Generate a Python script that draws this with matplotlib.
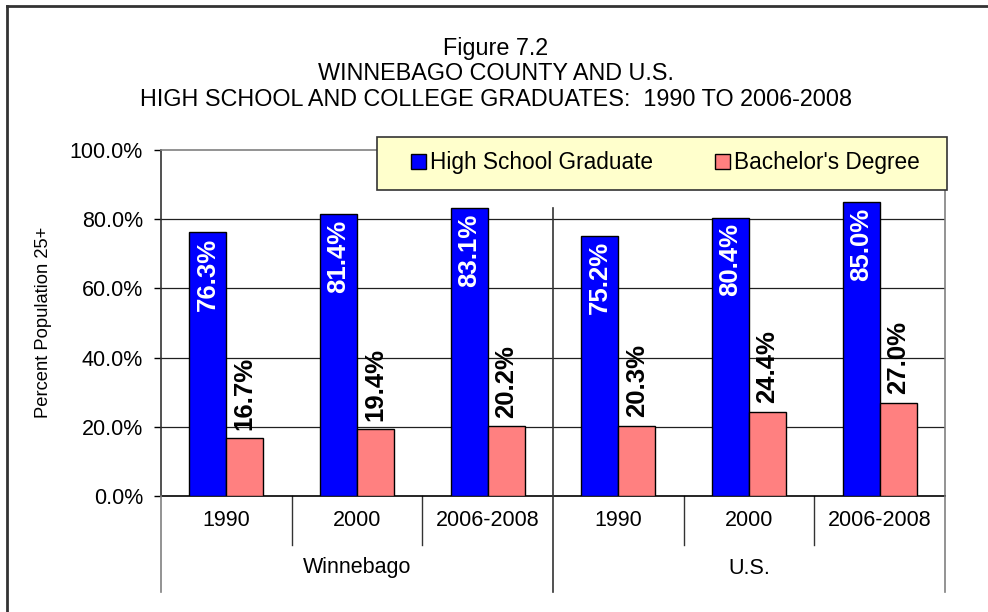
import matplotlib
matplotlib.use("Agg")
import matplotlib.pyplot as plt
from matplotlib.lines import Line2D
from matplotlib.patches import Rectangle
from matplotlib.transforms import blended_transform_factory
import numpy as np

plt.rcParams['font.family'] = ['Liberation Sans', 'DejaVu Sans']

# ---- data ----
groups = ["Winnebago", "U.S."]
years = ["1990", "2000", "2006-2008", "1990", "2000", "2006-2008"]
high_school = [76.3, 81.4, 83.1, 75.2, 80.4, 85.0]
bachelors = [16.7, 19.4, 20.2, 20.3, 24.4, 27.0]
series_names = ["High School Graduate", "Bachelor's Degree"]
title_lines = ["Figure 7.2", "WINNEBAGO COUNTY AND U.S.",
               "HIGH SCHOOL AND COLLEGE GRADUATES:  1990 TO 2006-2008"]
y_ticks = [0, 20, 40, 60, 80, 100]

W, H = 988, 612
fig = plt.figure(figsize=(W / 100, H / 100), dpi=100)

def fx(px):
    return px / W

def fy(py):
    return 1 - py / H

# outer chart border (left and top)
fig.add_artist(Line2D([fx(7), fx(7)], [fy(6), fy(612)], color='#333333', lw=2))
fig.add_artist(Line2D([fx(7), fx(988)], [fy(6), fy(6)], color='#333333', lw=2))

left, right, top, bottom = 161, 945, 150, 496
ax = fig.add_axes([fx(left), fy(bottom), fx(right - left), (bottom - top) / H])

n = len(years)
x = np.arange(n) + 0.5
bw = 0.283
b1 = ax.bar(x - bw / 2, high_school, bw, color='#0000FF', edgecolor='black', lw=1.0,
            label=series_names[0], zorder=3)
b2 = ax.bar(x + bw / 2, bachelors, bw, color='#FF8080', edgecolor='black', lw=1.0,
            label=series_names[1], zorder=3)

ax.set_xlim(0, n)
ax.set_ylim(0, 100)
ax.set_yticks(y_ticks)
ax.set_yticklabels([f"{v:.1f}%" for v in y_ticks], fontsize=15.5)
ax.tick_params(axis='y', direction='out', length=5, width=1, pad=8, colors='black')
ax.set_xticks([])
for g in y_ticks[1:-1]:
    ax.axhline(g, color='#202020', lw=0.9, zorder=1)

for s in ['top', 'right']:
    ax.spines[s].set_color('#808080')
    ax.spines[s].set_linewidth(1.2)
ax.spines['left'].set_color('#333333')
ax.spines['bottom'].set_color('black')
ax.spines['left'].set_linewidth(1.2)
ax.spines['bottom'].set_linewidth(1.2)

# data labels
for rect, v in zip(b1, high_school):
    ax.annotate(f"{v:.1f}%", (rect.get_x() + rect.get_width() / 2, v),
                xytext=(0, -4), textcoords='offset points', rotation=90,
                ha='center', va='top', color='white', fontsize=18.5,
                fontweight='bold', zorder=5)
for rect, v in zip(b2, bachelors):
    ax.annotate(f"{v:.1f}%", (rect.get_x() + rect.get_width() / 2, v),
                xytext=(0, 6), textcoords='offset points', rotation=90,
                ha='center', va='bottom', color='black', fontsize=18.5,
                fontweight='bold', zorder=5)

# multi-level category axis
trans = blended_transform_factory(ax.transData, ax.transAxes)
ph = bottom - top
y_mid = -(545 - bottom) / ph
y_low = -(592 - bottom) / ph
for i in range(n + 1):
    if i % 3 == 0:
        col = '#333333' if i == 3 else '#808080'
        y0 = 0.832 if i == 3 else 0
        ax.add_line(Line2D([i, i], [y0, y_low], transform=trans, color=col,
                           lw=1.2, clip_on=False, zorder=4))
    else:
        ax.add_line(Line2D([i, i], [0, y_mid], transform=trans, color='#333333',
                           lw=1.0, clip_on=False))
y_year = -(520 - bottom) / ph
y_grp = -(568 - bottom) / ph
for xi, lab in zip(x, years):
    ax.text(xi, y_year, lab, transform=trans, ha='center', va='center', fontsize=15.5)
for gi, g in enumerate(groups):
    ax.text(gi * 3 + 1.5, y_grp, g, transform=trans, ha='center', va='center', fontsize=15.5)

fig.text(fx(43), fy(322), "Percent Population 25+", rotation=90,
         ha='center', va='center', fontsize=13.2)

# titles
for ty, t in zip([48, 73, 99], title_lines):
    fig.text(fx(496), fy(ty), t, ha='center', va='center', fontsize=16.8)

# legend box
fig.add_artist(Rectangle((fx(377), fy(190)), fx(947 - 377), (190 - 137) / H,
                         facecolor='#FFFFCC', edgecolor='#333333', lw=1.2,
                         transform=fig.transFigure, zorder=10))
leg = fig.legend(handles=[b1, b2], loc='center left',
                 bbox_to_anchor=(fx(411), fy(163)), ncol=2, frameon=False,
                 fontsize=16.3, handlelength=0.66, handleheight=0.66,
                 handletextpad=0.2, columnspacing=2.7, borderpad=0,
                 borderaxespad=0)
leg.set_zorder(11)

fig.savefig("out.png", dpi=100)
